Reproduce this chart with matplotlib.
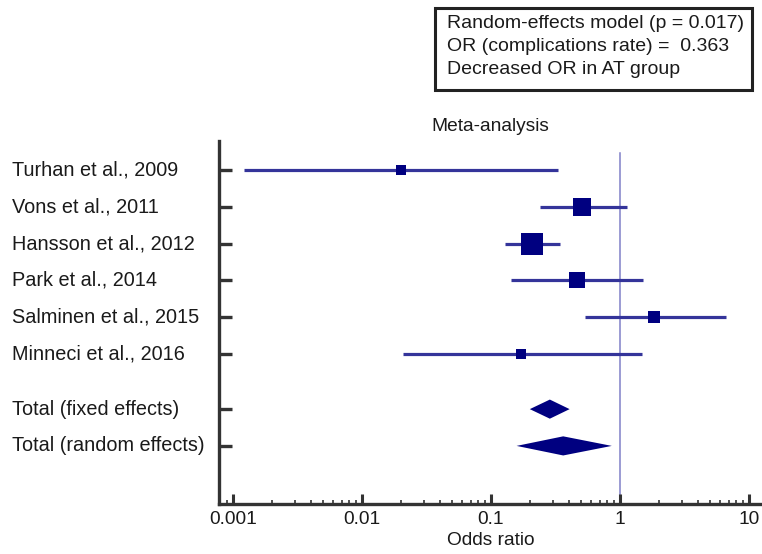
import numpy as np
import matplotlib.pyplot as plt
from matplotlib.patches import Rectangle
from matplotlib.transforms import blended_transform_factory

plt.rcParams['font.family'] = ['Liberation Sans', 'DejaVu Sans']

# Study data (odds ratios with 95% CI)
studies = ['Turhan et al., 2009', 'Vons et al., 2011', 'Hansson et al., 2012',
           'Park et al., 2014', 'Salminen et al., 2015', 'Minneci et al., 2016']
odds = [0.020, 0.512, 0.207, 0.463, 1.85, 0.172]
ci_low = [0.00121, 0.241, 0.129, 0.142, 0.532, 0.0207]
ci_high = [0.332, 1.14, 0.34, 1.52, 6.68, 1.47]
weights = [7.9, 21.6, 34.2, 16.9, 11.1, 8.3]

# Pooled estimates
totals = ['Total (fixed effects)', 'Total (random effects)']
total_or = [0.286, 0.363]
total_low = [0.200, 0.158]
total_high = [0.407, 0.864]

box_lines = ['Random-effects model (p = 0.017)',
             'OR (complications rate) =  0.363',
             'Decreased OR in AT group']

W, H = 762, 554
fig = plt.figure(figsize=(W / 100, H / 100), dpi=100)
ax = fig.add_axes([219.3 / W, (H - 504) / H, (W - 219.3) / W, (504 - 140.7) / H])

line_col = '#34349a'
mark_col = '#000080'

study_y = np.arange(1, len(studies) + 1)
total_y = np.array([7.5, 8.5])

for y, o, lo, hi, w in zip(study_y, odds, ci_low, ci_high, weights):
    ax.plot([lo, hi], [y, y], color=line_col, lw=2.3, solid_capstyle='butt', zorder=2)
    side = 3.81 * np.sqrt(w)  # pixels
    ax.plot(o, y, marker='s', color=mark_col, markersize=side * 0.72,
            markeredgewidth=0, zorder=3)

hh = 0.26
for y, o, lo, hi in zip(total_y, total_or, total_low, total_high):
    ax.fill([lo, o, hi, o], [y, y - hh, y, y + hh], color=mark_col, lw=0, zorder=3)

ax.plot([1, 1], [0.54, 10.1], color='#8080c8', lw=1.1, zorder=1)

ax.set_xscale('log')
ax.set_xlim(10 ** (-3.106), 10 ** 1.101)
ax.set_ylim(10.08, 0.2)

ax.set_xticks([0.001, 0.01, 0.1, 1, 10])
ax.set_xticklabels(['0.001', '0.01', '0.1', '1', '10'])
ax.set_yticks(list(study_y) + list(total_y))
ax.set_yticklabels([])
lab_tr = blended_transform_factory(fig.transFigure, ax.transData)
for y, lab in zip(list(study_y) + list(total_y), studies + totals):
    ax.text(12 / W, y, lab, transform=lab_tr, ha='left', va='center',
            fontsize=14.3, color='#1a1a1a')

for s in ['top', 'right']:
    ax.spines[s].set_visible(False)
for s in ['left', 'bottom']:
    ax.spines[s].set_color('#333333')
    ax.spines[s].set_linewidth(2.4)

ax.tick_params(axis='y', direction='in', length=9.5, width=2.4, color='#333333')
ax.tick_params(axis='x', which='major', direction='in', length=7.5, width=2.2,
               color='#333333', labelsize=13.8, pad=5, labelcolor='#1a1a1a')
ax.tick_params(axis='x', which='minor', direction='in', length=3, width=1.2, color='#333333')

ax.set_xlabel('Odds ratio', fontsize=13.8, labelpad=3, color='#1a1a1a')
ax.set_title('Meta-analysis', fontsize=13.8, pad=7, color='#1a1a1a')

# Info box
fig.patches.append(Rectangle((435 / W, (H - 90) / H), (752 - 435) / W, (90 - 8) / H,
                             transform=fig.transFigure, fill=False,
                             edgecolor='#222222', lw=2.2))
for i, line in enumerate(box_lines):
    fig.text(447 / W, (H - 24 - i * 22.5) / H, line, ha='left', va='center',
             fontsize=14, color='#1a1a1a')

fig.savefig('out.png', dpi=100)
